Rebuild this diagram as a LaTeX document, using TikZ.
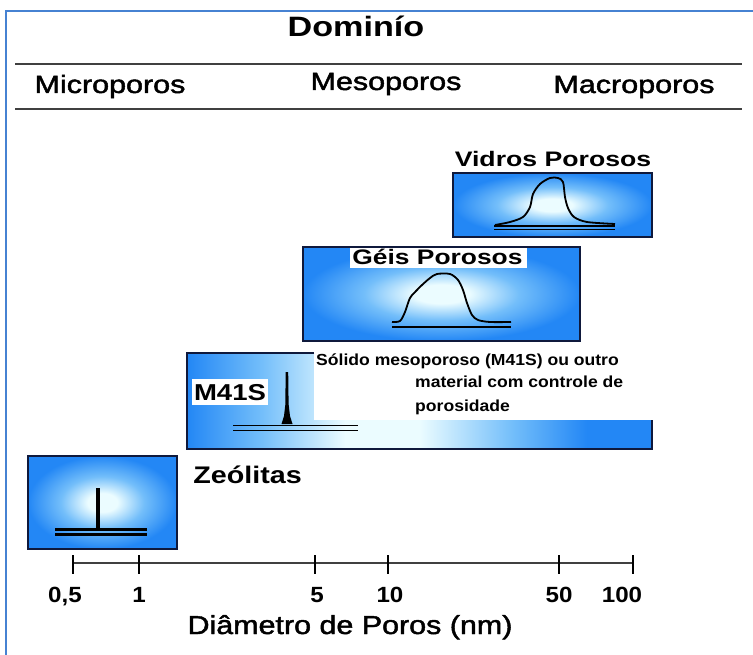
\documentclass[tikz,border=0pt]{standalone}
\usepackage{fontspec}
\setmainfont{Liberation Sans}
\newfontfamily\medfont{Liberation Sans}[FakeBold=1.6]
\definecolor{boxblue}{RGB}{35,135,245}
\definecolor{boxmid}{RGB}{115,190,250}
\definecolor{boxlight}{RGB}{235,252,255}
\definecolor{boxedge}{RGB}{15,25,60}
\definecolor{frameblue}{RGB}{70,130,210}
\pgfdeclareradialshading{glow}{\pgfpoint{0bp}{0bp}}{color(0bp)=(boxlight); color(5bp)=(boxlight); color(14bp)=(boxmid); color(25bp)=(boxblue); color(50bp)=(boxblue)}
\pgfdeclarehorizontalshading{stripglow}{100bp}{color(0bp)=(boxblue); color(25bp)=(boxblue); color(33bp)=(boxmid); color(42bp)=(boxlight); color(50bp)=(boxlight); color(60bp)=(boxmid); color(68bp)=(boxblue); color(100bp)=(boxblue)}
\begin{document}
\begin{tikzpicture}[x=1pt,y=-1pt,
	boxline/.style={draw=boxedge, line width=1.6pt},
	peak/.style={black, line width=1.8pt, line join=round},
	base/.style={black, line width=1.6pt},
	rule/.style={draw=black!75, line width=1.4pt},
	lbl/.style={inner sep=0pt, anchor=base, xscale=1.22}]

	\def\txtsize#1{\fontsize{#1}{#1}\selectfont}

	\path[use as bounding box, fill=white] (0,0) rectangle (753,655);
	\draw[frameblue, line width=1.2pt] (6,655) -- (6,11) -- (753,11);

	%heading and the three domains
	\node[lbl, font={\txtsize{28}\bfseries}] (dominio) at (356,37) {Dominío};
	\draw[rule] (15,64) -- (742,64);
	\node[lbl, font={\txtsize{25}\medfont}] (micro) at (110,93) {Microporos};
	\node[lbl, font={\txtsize{25}\medfont}] (meso) at (386,90) {Mesoporos};
	\node[lbl, font={\txtsize{25}\medfont}] (macro) at (634,93) {Macroporos};
	\draw[rule] (15,109) -- (742,109);

	%vidros, upper right
	\shade[shading=glow] (453,173) rectangle (652,237);
	\draw[boxline] (453,173) rectangle (652,237);
	\node[lbl, font={\txtsize{21}\bfseries}, xscale=1.04] (vidros) at (553,167) {Vidros Porosos};
	\draw[base] (494,226.3) -- (615,226.3);
	\draw[base] (494,229.7) -- (615,229.7);
	\draw[peak] plot[smooth, tension=0.5] coordinates {(495,225) (510,222) (523,217) (530,207) (533,194) (540,184) (550,178) (558,178) (563,182) (565,197) (568,208) (574,217) (587,222) (615,224)};

	%geis, middle
	\shade[shading=glow] (303,247) rectangle (580,341);
	\draw[boxline] (303,247) rectangle (580,341);
	\fill[white] (350,248) rectangle (527,268);
	\node[lbl, font={\txtsize{21}\bfseries}, xscale=1.03] (geis) at (437.5,265) {Géis Porosos};
	\draw[base] (392,327) -- (511,327);
	\draw[peak] plot[smooth, tension=0.5] coordinates {(392,322) (400,321) (405,312) (410,298) (417,290) (422,285) (430,278) (437,274) (450,274) (458,280) (463,290) (467,303) (472,315) (478,320) (490,322) (511,322)};

	%m41s, long strip
	\shade[shading=stripglow] (187,353) rectangle (652,449);
	\fill[white] (314,350) rectangle (656,419.5);
	\draw[boxline] (314,353) -- (187,353) -- (187,449) -- (652,449) -- (652,419.5);
	\fill[white] (192,379) rectangle (268,405);
	\node[lbl, font={\txtsize{23}\bfseries}, xscale=0.98] (m41s) at (230,400) {M41S};
	\draw[base] (233,425.5) -- (358,425.5);
	\draw[base] (233,430.5) -- (358,430.5);
	\fill[black] (285.6,372) -- (288.2,372) -- (288.6,404) -- (290,416) -- (292.5,424) -- (281.5,424) -- (284,416) -- (285.4,404) -- cycle;
	\node[lbl, anchor=base west, font={\txtsize{16}\bfseries}, xscale=0.9] (solido1) at (316,365) {Sólido mesoporoso (M41S) ou outro};
	\node[lbl, anchor=base west, font={\txtsize{16}\bfseries}, xscale=0.9] (solido2) at (415,388) {material com controle de};
	\node[lbl, anchor=base west, font={\txtsize{16}\bfseries}, xscale=0.9] (solido3) at (415,411) {porosidade};

	%zeolitas, lower left
	\shade[shading=glow] (28,456) rectangle (177,549);
	\draw[boxline] (28,456) rectangle (177,549);
	\draw[base, line width=2.6pt] (55,529.5) -- (147,529.5);
	\draw[base, line width=2.6pt] (55,534.5) -- (147,534.5);
	\draw[peak, line width=3.6pt] (98,488) -- (98,528);
	\node[lbl, font={\txtsize{24}\bfseries}, xscale=0.98] (zeolitas) at (247.5,483) {Zeólitas};

	%pore diameter axis
	\draw[rule] (72,563) -- (633,563);
	\foreach \tickpos/\ticklabel/\labelpos [count=\i] in {73/{0,5}/65, 139/1/139, 315/5/317, 388/10/390, 559/50/559, 633/100/622}
   {
		\draw[black, line width=1.4pt] (\tickpos,555) -- (\tickpos,574);
		\node[lbl, font={\txtsize{22}\bfseries}, xscale=0.9] (tick\i) at (\labelpos,602) {\ticklabel};
   }
	\draw[black, line width=2.6pt] (73,555) -- (73,574);
	\node[lbl, font={\txtsize{26}\medfont}, xscale=0.96] (eixo) at (350,634) {Diâmetro de Poros (nm)};

\end{tikzpicture}
\end{document}
